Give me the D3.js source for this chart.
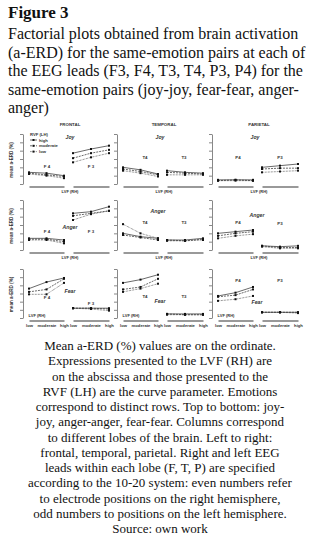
<!DOCTYPE html>
<html>
<head>
<meta charset="utf-8">
<script src="https://cdn.jsdelivr.net/npm/d3@7"></script>
<style>
    body { margin: 0; background: #fff; }
    svg { display: block; }
    .plot text { font-family: "Liberation Sans", Arial, sans-serif; font-weight: bold; fill: #333; }
    .caption text { font-family: "Liberation Serif", "Times New Roman", serif; fill: #111; }
</style>
</head>
<body>
<div id="chart"></div>
<script>
// Categories and labels
const lobes = ["FRONTAL", "TEMPORAL", "PARIETAL"];
const emotions = ["Joy", "Anger", "Fear"];
const leads = [["F 4", "F 3"], ["T4", "T3"], ["P4", "P3"]];
const lvfLevels = ["low", "moderate", "high"];   // abscissa: LVF (RH)
const rvfLevels = ["high", "moderate", "low"];   // curve parameter: RVF (LH)
const yTicks = [0, 10, 20, 30, 40, 50, 60];

// mean a-ERD (%): [right lead, left lead], each lead = [high, moderate, low] over lvfLevels
const frontalJoy = [[[14, 13, 10], [13, 11, 9], [12, 10, 7]], [[37, 42, 46], [31, 37, 41], [26, 32, 37]]];
const temporalJoy = [[[20, 17, 12], [18, 15, 11], [16, 13, 9]], [[16, 14, 13], [14, 13, 12], [11, 11, 11]]];
const parietalJoy = [[[5, 5, 5], [4, 5, 4], [4, 4, 4]], [[20, 22, 24], [18, 19, 19], [14, 15, 16]]];
const frontalAnger = [[[14, 14, 12], [13, 13, 10], [12, 12, 8]], [[44, 46, 52], [41, 44, 47], [36, 43, 47]]];
const temporalAnger = [[[20, 16, 14], [18, 15, 12], [31, 20, 14]], [[12, 12, 14], [12, 11, 13], [11, 11, 12]]];
const parietalAnger = [[[20, 22, 24], [17, 20, 22], [14, 17, 19]], [[5, 4, 5], [5, 3, 3], [4, 2, 2]]];
const frontalFear = [[[36, 44, 49], [32, 35, 48], [29, 29, 43]], [[12, 12, 12], [12, 12, 11], [12, 11, 9]]];
const temporalFear = [[[43, 47, 53], [35, 38, 48], [32, 36, 42]], [[5, 5, 5], [5, 4, 4], [4, 4, 4]]];
const parietalFear = [[[27, 31, 38], [26, 28, 35], [21, 23, 27]], [[7, 7, 7], [7, 7, 7], [7, 7, 6]]];

const grid = [
    [frontalJoy, temporalJoy, parietalJoy],
    [frontalAnger, temporalAnger, parietalAnger],
    [frontalFear, temporalFear, parietalFear]
];

const headLines = [
    "Factorial plots obtained from brain activation",
    "(a-ERD) for the same-emotion pairs at each of",
    "the EEG leads (F3, F4, T3, T4, P3, P4) for the",
    "same-emotion pairs (joy-joy, fear-fear, anger-",
    "anger)"
];

const footLines = [
    "Mean a-ERD (%) values are on the ordinate.",
    "Expressions presented to the LVF (RH) are",
    "on the abscissa and those presented to the",
    "RVF (LH) are the curve parameter. Emotions",
    "correspond to distinct rows. Top to bottom: joy-",
    "joy, anger-anger, fear-fear. Columns correspond",
    "to different lobes of the brain. Left to right:",
    "frontal, temporal, parietal. Right and left EEG",
    "leads within each lobe (F, T, P) are specified",
    "according to the 10-20 system: even numbers refer",
    "to electrode positions on the right hemisphere,",
    "odd numbers to positions on the left hemisphere.",
    "Source: own work"
];

// Layout
const width = 320, height = 542;
const serif = "'Liberation Serif', 'Times New Roman', serif";
const colX = [23, 117, 212];                       // y-axis position of each lobe
const rowY = [[134, 184], [200, 250], [269, 318]]; // [top, bottom] of each emotion row
const sub = [[6, 41], [50, 86]];                   // x extent of the two leads, relative to axis

// label placement per row: emotion [dx, y], left lead y, right lead y
const rowLabels = [
    [[[47, 139], 168, 168], [[43, 139], 159, 159], [[43, 139], 159, 159]],
    [[[47, 229], 233, 233], [[41, 213], 224, 224], [[45, 217], 224, 225]],
    [[[47, 293], 299, 305], [[43, 303], 298, 298], [[45, 304], 282, 282]]
];
const leadDx = [[24, 68], [28, 67], [26, 68]];

const dash = { high: null, moderate: "2,1", low: "0.7,0.8" };

const svg = d3.select("#chart").append("svg")
    .attr("width", width)
    .attr("height", height);

svg.append("rect").attr("width", width).attr("height", height).attr("fill", "#fff");

// Heading
const head = svg.append("g").attr("class", "caption");
head.append("text")
    .attr("x", 8).attr("y", 18)
    .attr("font-family", serif)
    .attr("font-size", 17).attr("font-weight", "bold")
    .text("Figure 3");
head.selectAll("text.line")
    .data(headLines)
    .join("text")
    .attr("class", "line")
    .attr("x", 8)
    .attr("y", (d, i) => 39 + i * 18.5)
    .attr("font-family", serif)
    .attr("font-size", 16)
    .text(d => d);

// Plots
const plot = svg.append("g").attr("class", "plot");

lobes.forEach((lobe, c) => {
    plot.append("text")
        .attr("x", colX[c] + 47).attr("y", 125.5)
        .attr("text-anchor", "middle")
        .attr("font-size", 4.4)
        .text(lobe);
});

emotions.forEach((emotion, r) => {
    const y = d3.scaleLinear().domain([0, 60]).range([rowY[r][1], rowY[r][0]]);

    // y title on the frontal column only
    plot.append("text")
        .attr("transform", `translate(13, ${(rowY[r][0] + rowY[r][1]) / 2 + 1}) rotate(-90)`)
        .attr("text-anchor", "middle")
        .attr("font-size", 4.6)
        .text("mean a-ERD (%)");

    lobes.forEach((lobe, c) => {
        const x0 = colX[c];
        const g = plot.append("g");

        g.append("g")
            .attr("transform", `translate(${x0}, 0)`)
            .call(d3.axisLeft(y).tickValues(yTicks).tickSize(3).tickSizeOuter(0).tickFormat(""))
            .call(a => a.selectAll("path, line").attr("stroke", "#555").attr("stroke-width", 0.7));

        const lab = rowLabels[r][c];
        g.append("text")
            .attr("x", x0 + lab[0][0]).attr("y", lab[0][1])
            .attr("text-anchor", "middle")
            .attr("font-size", 5.2)
            .attr("font-style", "italic")
            .text(emotion);

        [0, 1].forEach(s => {
            const x = d3.scalePoint()
                .domain(lvfLevels)
                .range([x0 + sub[s][0], x0 + sub[s][1]]);

            g.append("text")
                .attr("x", x0 + leadDx[c][s]).attr("y", lab[s + 1])
                .attr("text-anchor", "middle")
                .attr("font-size", 4.4)
                .text(leads[c][s]);

            // gray base bar with level labels on the last row
            g.append("g")
                .attr("transform", `translate(0, ${y(0) + 2.5})`)
                .call(d3.axisBottom(x).tickSize(0).tickSizeOuter(0).tickPadding(4)
                    .tickFormat(r === emotions.length - 1 ? d => d : ""))
                .call(a => a.select(".domain").attr("stroke", "#999").attr("stroke-width", 2))
                .call(a => a.selectAll("text")
                    .attr("font-size", 4.2)
                    .attr("font-family", "Liberation Sans, Arial, sans-serif")
                    .attr("fill", "#333"));

            const line = d3.line()
                .x((d, i) => x(lvfLevels[i]))
                .y(d => y(d));

            grid[r][c][s].forEach((vals, k) => {
                g.append("path")
                    .attr("d", line(vals))
                    .attr("fill", "none")
                    .attr("stroke", "#444")
                    .attr("stroke-width", 0.8)
                    .attr("stroke-dasharray", dash[rvfLevels[k]]);
                g.selectAll(null)
                    .data(vals)
                    .join("rect")
                    .attr("x", (d, i) => x(lvfLevels[i]) - 1)
                    .attr("y", d => y(d) - 1)
                    .attr("width", 2)
                    .attr("height", 2)
                    .attr("fill", "#111");
            });
        });

        // abscissa title
        const last = r === emotions.length - 1;
        g.append("text")
            .attr("x", x0 + (last ? 14 : 47))
            .attr("y", last ? 317 : y(0) + 9)
            .attr("text-anchor", "middle")
            .attr("font-size", 4)
            .text("LVF (RH)");
    });
});

// Legend (frontal joy)
const legend = plot.append("g");
legend.append("text")
    .attr("x", 30).attr("y", 135.5)
    .attr("font-size", 4.2)
    .text("RVF (LH)");
rvfLevels.forEach((lev, k) => {
    const ly = 140 + k * 5.8;
    legend.append("line")
        .attr("x1", 30).attr("x2", 37)
        .attr("y1", ly).attr("y2", ly)
        .attr("stroke", "#444").attr("stroke-width", 0.8)
        .attr("stroke-dasharray", dash[lev]);
    legend.append("rect")
        .attr("x", 32.5).attr("y", ly - 1)
        .attr("width", 2).attr("height", 2)
        .attr("fill", "#111");
    legend.append("text")
        .attr("x", 39).attr("y", ly + 1.5)
        .attr("font-size", 4.2)
        .text(lev);
});

// Footnote
svg.append("g").attr("class", "caption")
    .selectAll("text")
    .data(footLines)
    .join("text")
    .attr("x", 160)
    .attr("y", (d, i) => 350 + i * 15.25)
    .attr("text-anchor", "middle")
    .attr("font-family", serif)
    .attr("font-size", 13)
    .text(d => d);
</script>
</body>
</html>
